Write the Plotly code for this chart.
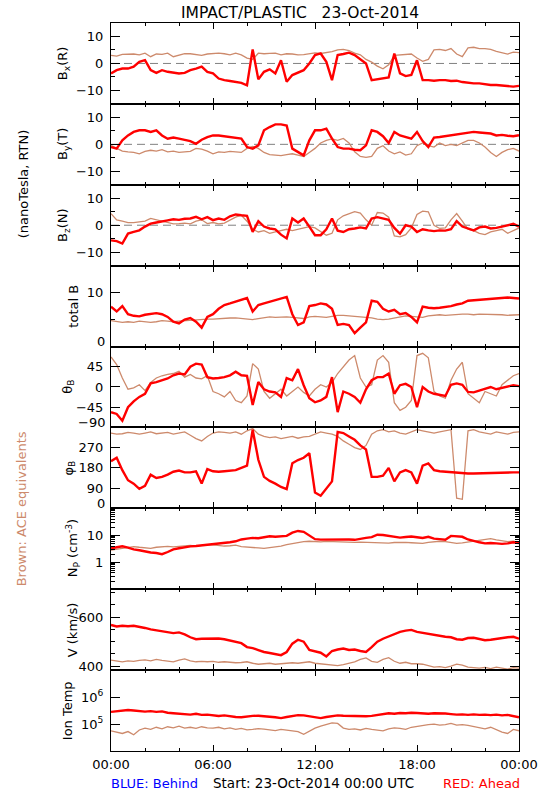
import pandas as pd
import plotly.graph_objects as go

# ---------------- data (20-minute samples) ----------------
times = pd.date_range("2014-10-23 00:00", periods=73, freq="20min")

bx_ahead = [-3.7, -2.5, -1.9, -1.9, -1.2, 0.6, 1.2, -2.5, -3.5, -2.5,
            -3.1, -3.5, -3.7, -3.5, -2.5, -1.9, -1.2, -3.1, -3.7, -5.6,
            -6.2, -6.5, -6.8, -7.2, -8.1, 5.2, -5.9, -3.1, -2.2, -3.7,
            1.2, -6.8, -4.3, -3.5, -2.5, 0.0, 3.1, 3.7, 0.6, -6.2,
            3.1, 3.5, 4.0, 3.1, 1.5, 0.0, -6.2, -5.9, -5.6, -5.2,
            3.7, -3.7, -4.7, -4.3, 1.2, -6.2, -6.2, -6.4, -6.2, -6.2,
            -6.5, -6.4, -6.9, -7.2, -7.4, -7.4, -7.7, -8.0, -8.0, -8.2,
            -8.4, -8.6, -8.3]
bx_ace = [3.0, 2.7, 3.4, 3.5, 3.5, 3.2, 3.8, 2.5, 3.5, 3.4,
          3.8, 2.5, 3.0, 3.6, 3.6, 3.4, 3.0, 3.5, 3.7, 3.8,
          3.6, 3.2, 3.8, 3.2, 2.0, 1.5, 3.8, 3.6, 3.7, 3.8,
          3.2, 3.6, 3.5, 3.2, 3.3, 3.6, 3.9, 3.7, 4.0, 4.4,
          5.0, 5.2, 4.8, 3.8, 3.2, 1.5, 0.5, -1.0, -2.0, -0.5,
          3.0, 3.2, 3.4, 3.5, 2.0, 0.8, 1.5, 5.0, 5.2, 4.8,
          5.5, 3.5, 2.5, 5.8, 6.0, 5.5, 5.5, 5.2, 4.5, 4.0,
          3.5, 4.2, 4.0]

by_ahead = [-1.0, -1.6, 1.5, 3.3, 4.6, 5.2, 5.2, 4.6, 5.2, 3.3,
            2.1, 2.5, 2.1, 1.7, 1.2, 0.2, 1.7, 2.7, 3.3, 3.3,
            3.0, 2.7, 2.5, 2.1, -1.0, -1.6, -0.4, 5.2, 6.4, 7.4,
            7.4, 7.0, -1.6, -2.8, -4.1, 1.5, 5.2, 5.2, 5.8, 2.1,
            -1.0, -1.6, -1.6, -2.0, -2.2, -0.4, 5.2, 4.6, 3.0, 0.5,
            4.6, 3.3, 2.7, 2.1, 4.6, 1.2, -1.0, 2.5, 2.7, 3.0,
            3.3, 3.7, 4.0, 4.4, 4.6, 4.4, 4.2, 4.0, 3.3, 3.5,
            3.2, 3.0, 3.4]
by_ace = [-0.4, -1.5, -2.5, -2.8, -3.0, -3.5, -2.6, -2.2, -2.5, -2.0,
          -2.8, -2.5, -3.0, -2.8, -2.6, -1.5, -1.8, -2.5, -3.5, -2.8,
          -3.0, -2.6, -2.8, -3.0, -1.5, -0.8, -1.5, -3.0, -3.8, -4.0,
          -4.2, -3.8, -3.5, -4.0, -4.5, -3.0, -1.5, 0.5, 1.5, 2.0,
          1.5, 2.2, 0.5, -2.8, -4.5, -4.8, -4.5, -1.5, -0.5, -2.5,
          -3.5, -2.8, -4.0, -3.5, -0.5, 0.5, -0.5, -1.0, 0.5, -0.5,
          0.0, -0.5, 0.5, 1.5, 1.5, 0.5, -1.0, -3.0, -4.5, -3.0,
          -2.0, -1.5, -2.5]

bz_ahead = [-5.6, -5.9, -6.8, -3.1, -2.5, -1.9, -0.5, 0.6, 1.0, 1.5,
            1.8, 2.2, 2.0, 2.4, 2.5, 3.1, 2.2, 3.0, 1.9, 2.5,
            2.0, 3.3, 4.0, 3.7, 3.5, -2.5, 1.5, -0.5, -1.2, -1.5,
            -3.5, -4.9, 2.5, 1.0, 2.5, -0.5, -3.7, -3.7, -1.5, 2.5,
            -2.0, -2.5, -1.5, -1.2, -0.8, -1.2, 2.5, 3.0, 2.5, 2.0,
            -1.0, -3.1, 0.0, -0.5, -2.5, -1.5, -1.9, -2.2, -1.9, -2.0,
            -1.5, 1.5, -0.5, -1.2, -1.9, -0.8, -0.5, -1.2, -1.0, -0.5,
            0.0, 0.5, -0.5]
bz_ace = [4.3, 2.0, 1.5, 1.0, 1.0, 1.2, 1.5, 2.5, 2.0, 1.5,
          1.0, 0.5, 0.6, 0.8, 0.5, 1.5, 2.0, 0.6, 1.0, 0.5,
          0.8, 2.0, 3.0, 3.7, 1.5, -1.5, -2.5, -2.0, -3.0, -2.5,
          -2.0, -1.5, -2.0, -1.5, -1.2, -0.5, -1.0, -2.5, -3.7, -3.0,
          2.0, 3.5, 4.3, 5.0, 4.5, 2.0, 0.0, 4.7, 4.5, 3.0,
          -4.0, -4.3, -3.5, -1.0, 4.0, 5.2, 5.0, 0.0, -1.2, -1.0,
          2.0, 4.3, 1.5, -1.5, -2.0, -3.0, -3.5, -2.5, -2.0, -1.5,
          -3.0, -2.0, -1.0]

btot_ahead = [7.4, 6.5, 7.5, 6.0, 5.7, 5.6, 5.9, 6.0, 6.2, 6.0,
              5.5, 4.6, 4.3, 5.0, 5.3, 4.6, 3.5, 5.5, 6.0, 7.0,
              7.7, 8.0, 8.3, 8.6, 9.0, 6.5, 7.7, 8.0, 8.3, 8.6,
              8.8, 9.2, 6.0, 4.0, 4.5, 7.5, 7.7, 8.0, 7.8, 7.0,
              4.0, 4.2, 4.0, 2.5, 3.5, 4.5, 8.5, 8.3, 7.0, 6.5,
              6.8, 6.0, 6.2, 5.5, 4.5, 7.4, 7.2, 7.1, 7.2, 7.3,
              7.5, 7.8, 8.0, 8.5, 8.6, 8.7, 8.8, 8.9, 9.0, 9.0,
              9.1, 9.0, 8.9]
btot_ace = [4.8, 4.6, 4.5, 4.6, 4.5, 4.7, 4.6, 4.5, 4.6, 4.8,
            4.7, 4.6, 4.7, 4.8, 4.9, 5.0, 5.0, 5.1, 5.1, 5.2,
            5.2, 5.3, 5.3, 5.2, 5.1, 5.0, 5.2, 5.4, 5.5, 5.4,
            5.5, 5.5, 5.4, 5.3, 5.2, 5.5, 5.6, 5.5, 5.4, 5.6,
            5.8, 5.8, 5.7, 5.6, 5.6, 5.5, 5.3, 5.1, 5.0, 5.1,
            5.3, 5.6, 5.7, 5.6, 5.5, 5.4, 5.7, 5.8, 5.9, 5.8,
            5.9, 5.9, 6.0, 6.0, 5.9, 6.0, 6.0, 6.0, 5.9, 5.9,
            5.8, 5.9, 5.9]

theta_ahead = [-56, -60, -75, -45, -32, -22, -15, 8, 11, 15,
               19, 26, 30, 28, 45, 52, 50, 22, 19, 20,
               22, 26, 34, 26, 25, -40, 11, -5, -10, -12,
               -22, 20, 15, 40, 4, -25, -34, -30, -22, 22,
               -56, -10, -15, -22, -35, -5, 15, 22, 22, 30,
               -15, 4, 7, 0, -45, 0, -10, -15, -18, -20,
               5, 8, 5, -11, -12, -8, -4, 0, -5, -2,
               0, 4, 2]
theta_ace = [67, 50, 20, -5, -2, 5, -8, 10, 20, 25,
             28, 30, 35, 22, 28, 20, 18, 25, -10, -15,
             -22, -10, -30, -35, -20, 52, 40, -10, -25, -15,
             -5, -20, -10, 0, -12, -20, -5, 5, 0, 10,
             30, 45, 60, 70, 20, 0, 5, 60, 70, 55,
             -35, -52, -45, -30, 70, 75, 65, -10, -20, -25,
             15, 40, 55, -15, -25, -35, -10, -15, -20, 5,
             15, 25, 30]

phi_ahead = [210, 225, 170, 125, 110, 87, 100, 150, 135, 140,
             150, 163, 168, 160, 160, 165, 110, 175, 165, 163,
             165, 168, 170, 180, 190, 350, 216, 140, 122, 110,
             95, 85, 201, 215, 225, 245, 70, 56, 90, 120,
             340, 335, 320, 305, 280, 262, 140, 140, 145, 180,
             120, 160, 170, 160, 110, 190, 200, 170, 165, 163,
             160, 158, 155, 155, 155, 156, 158, 158, 160, 160,
             162, 160, 160]
phi_ace = [335, 330, 332, 338, 335, 330, 335, 340, 332, 335,
           338, 330, 335, 340, 325, 310, 300, 320, 335, 340,
           338, 335, 340, 330, 345, 355, 330, 320, 315, 318,
           310, 315, 320, 312, 318, 320, 330, 340, 335, 330,
           320, 300, 285, 270, 262, 280, 330, 345, 350, 340,
           345, 335, 330, 340, 350, 345, 340, 335, 340, 345,
           350, 45, 40, 345, 350, 340, 335, 330, 340, 335,
           330, 338, 340]

np_ahead = [3.3, 3.6, 3.9, 3.5, 3.0, 2.8, 2.5, 2.3, 2.2, 2.0,
            2.4, 3.0, 3.3, 3.6, 3.9, 4.0, 4.2, 4.5, 4.6, 5.0,
            5.2, 5.5, 6.0, 7.0, 7.5, 8.0, 7.8, 8.5, 9.2, 8.8,
            9.0, 9.5, 12.5, 14.5, 13.5, 10.0, 7.2, 6.9, 7.0, 6.8,
            6.9, 7.2, 7.0, 6.8, 7.5, 8.0, 8.5, 10.5, 10.2, 9.5,
            8.8, 8.2, 8.6, 9.0, 8.5, 8.0, 8.8, 7.5, 7.2, 6.8,
            9.5, 9.2, 8.8, 7.0, 6.0, 5.5, 5.0, 5.2, 5.0, 4.8,
            5.0, 5.5, 5.2]
np_ace = [2.8, 3.0, 3.2, 3.5, 3.8, 3.6, 3.5, 3.3, 3.6, 3.8,
          3.9, 3.7, 3.8, 4.0, 4.2, 4.0, 4.3, 4.5, 4.4, 4.2,
          4.0, 4.1, 4.3, 3.8, 3.6, 3.5, 3.4, 3.3, 3.5, 3.7,
          4.0, 4.5, 5.0, 5.5, 5.8, 6.0, 5.8, 5.7, 5.9, 5.8,
          5.6, 5.5, 5.4, 5.5, 5.6, 5.5, 5.3, 5.2, 5.0, 5.1,
          5.4, 5.6, 5.5, 5.3, 5.2, 5.0, 5.5, 5.8, 6.0, 5.8,
          5.4, 5.0, 5.2, 5.6, 6.2, 6.8, 7.2, 7.5, 6.8, 6.2,
          5.8, 6.0, 5.5]

v_ahead = [568, 562, 565, 563, 565, 562, 556, 550, 546, 542,
           536, 535, 538, 530, 518, 510, 512, 512, 515, 513,
           510, 505, 500, 494, 478, 474, 466, 458, 454, 448,
           445, 458, 492, 508, 500, 466, 460, 455, 440, 462,
           468, 472, 466, 468, 462, 458, 478, 500, 512, 522,
           532, 540, 545, 548, 540, 536, 530, 528, 524, 520,
           518, 510, 508, 515, 516, 512, 506, 508, 512, 514,
           518, 520, 512]
v_ace = [425, 420, 418, 422, 420, 424, 426, 422, 428, 424,
         420, 418, 425, 430, 422, 418, 420, 418, 420, 416,
         418, 416, 414, 415, 418, 412, 408, 410, 412, 408,
         410, 412, 414, 412, 416, 418, 412, 410, 406, 404,
         402, 406, 412, 418, 428, 434, 420, 416, 428, 435,
         420, 412, 416, 410, 410, 408, 402, 396, 398, 394,
         400, 408, 404, 396, 394, 392, 395, 390, 396, 392,
         388, 394, 392]

temp_ahead = [282000, 302000, 316000, 331000, 316000, 295000, 288000, 302000, 282000, 295000,
              263000, 251000, 240000, 229000, 224000, 240000, 219000, 224000, 214000, 200000,
              209000, 191000, 182000, 178000, 191000, 200000, 204000, 200000, 186000, 178000,
              166000, 182000, 200000, 214000, 209000, 191000, 174000, 166000, 182000, 200000,
              209000, 204000, 200000, 209000, 200000, 195000, 200000, 219000, 240000, 251000,
              240000, 257000, 251000, 263000, 257000, 251000, 240000, 251000, 251000, 245000,
              234000, 224000, 229000, 219000, 229000, 219000, 224000, 214000, 224000, 209000,
              219000, 200000, 178000]
temp_ace = [56200, 50100, 44700, 52500, 39800, 60300, 70800, 63100, 75900, 66100,
            79400, 72400, 83200, 70800, 75900, 69200, 79400, 72400, 70800, 75900,
            66100, 72400, 63100, 69200, 60300, 63100, 67600, 64600, 60300, 57500,
            63100, 60300, 55000, 52500, 41700, 56200, 70800, 83200, 95500, 110000,
            105000, 70800, 63100, 66100, 60300, 69200, 63100, 60300, 56200, 66100,
            72400, 69200, 63100, 75900, 83200, 89100, 95500, 100000, 91200, 95500,
            105000, 91200, 95500, 89100, 79400, 70800, 66100, 75900, 60300, 50100,
            44700, 63100, 56200]

x_tick_labels = ["00:00", "06:00", "12:00", "18:00", "00:00"]

# ---------------- styling ----------------
RED = "#FF0000"
BROWN = "#CD8A6C"
FONT = "DejaVu Sans"
W, H = 550, 800
ML, MR, MT, MB = 111, 25, 23, 49
PW, PH = W - ML - MR, H - MT - MB
M = "\u2212"


def px_x(px):
    return (px - ML) / PW


def px_y(py):
    return (H - MB - py) / PH


panels = [
    dict(ace=bx_ace, ahead=bx_ahead, title="B<sub>x</sub>(R)", tx=63, rng=[-15, 15], typ="linear",
         tv=[-10, 0, 10], tt=None, minor=[-5, 5], zero=True, edge=None),
    dict(ace=by_ace, ahead=by_ahead, title="B<sub>y</sub>(T)", tx=63, rng=[-15, 15], typ="linear",
         tv=[-10, 0, 10], tt=None, minor=[-5, 5], zero=True, edge=None),
    dict(ace=bz_ace, ahead=bz_ahead, title="B<sub>z</sub>(N)", tx=63, rng=[-15, 15], typ="linear",
         tv=[-10, 0, 10], tt=None, minor=[-5, 5], zero=True, edge=None),
    dict(ace=btot_ace, ahead=btot_ahead, title="total B", tx=73, rng=[0, 15], typ="linear",
         tv=[0, 10], tt=["", "10"], minor=[5], zero=False, edge="0"),
    dict(ace=theta_ace, ahead=theta_ahead, title="θ<sub>B</sub>", tx=67, rng=[-90, 90], typ="linear",
         tv=[-90, -45, 0, 45], tt=["", M + "45", "0", "45"], minor=[], zero=False, edge=M + "90"),
    dict(ace=phi_ace, ahead=phi_ahead, title="φ<sub>B</sub>", tx=69, rng=[0, 360], typ="linear",
         tv=[0, 90, 180, 270], tt=["", "90", "180", "270"], minor=[], zero=False, edge="0"),
    dict(ace=np_ace, ahead=np_ahead, title="N<sub>P</sub> (cm<sup>-3</sup>)", tx=72, rng=[-1, 2], typ="log",
         tv=[1, 10], tt=["1", "10"],
         minor=[0.2, 0.3, 0.4, 0.5, 0.6, 0.7, 0.8, 0.9, 2, 3, 4, 5, 6, 7, 8, 9,
                20, 30, 40, 50, 60, 70, 80, 90], zero=False, edge=None),
    dict(ace=v_ace, ahead=v_ahead, title="V (km/s)", tx=72, rng=[384, 714], typ="linear",
         tv=[400, 600], tt=None, minor=[450, 500, 550, 650, 700], zero=False, edge=None),
    dict(ace=temp_ace, ahead=temp_ahead, title="Ion Temp", tx=67, rng=[4, 7], typ="log",
         tv=[1e5, 1e6], tt=["10<sup>5</sup>", "10<sup>6</sup>"], minor=[], zero=False, edge=None),
]

fig = go.Figure()
layout = {}
shapes = []
annotations = []
n = len(panels)
t0, t1 = "2014-10-23 00:00", "2014-10-24 00:00"

for i, p in enumerate(panels):
    k = i + 1
    xa = "x" if k == 1 else f"x{k}"
    ya = "y" if k == 1 else f"y{k}"
    fig.add_trace(go.Scatter(x=times, y=p["ace"], mode="lines",
                             line=dict(color=BROWN, width=1.3),
                             xaxis=xa, yaxis=ya, hoverinfo="skip", showlegend=False))
    fig.add_trace(go.Scatter(x=times, y=p["ahead"], mode="lines",
                             line=dict(color=RED, width=2.4),
                             xaxis=xa, yaxis=ya, hoverinfo="skip", showlegend=False))
    xdict = dict(domain=[0, 1], anchor=ya, type="date", range=[t0, t1],
                 tickmode="array",
                 tickvals=pd.date_range(t0, t1, freq="6h"), ticktext=x_tick_labels,
                 ticks="inside", ticklen=6, tickwidth=1, tickcolor="black",
                 showticklabels=(k == n), ticklabelstandoff=1,
                 tickfont=dict(family=FONT, size=13, color="black"),
                 showline=True, linecolor="black", linewidth=1, mirror="ticks",
                 showgrid=False, zeroline=False,
                 minor=dict(tickmode="array", tickvals=pd.date_range(t0, t1, freq="2h"),
                            ticks="inside", ticklen=3, tickcolor="black", showgrid=False))
    ydict = dict(domain=[1 - (i + 1) / n, 1 - i / n], anchor=xa, type=p["typ"], range=p["rng"],
                 tickmode="array", tickvals=p["tv"],
                 ticks="inside", ticklen=9, tickwidth=1, tickcolor="black",
                 ticklabelstandoff=4,
                 tickfont=dict(family=FONT, size=13, color="black"),
                 showline=True, linecolor="black", linewidth=1, mirror="ticks",
                 showgrid=False, zeroline=False,
                 minor=dict(tickmode="array", tickvals=p["minor"], ticks="inside",
                            ticklen=4, tickcolor="black", showgrid=False))
    if p["tt"] is not None:
        ydict["ticktext"] = p["tt"]
    layout["xaxis" if k == 1 else f"xaxis{k}"] = xdict
    layout["yaxis" if k == 1 else f"yaxis{k}"] = ydict
    if p["zero"]:
        shapes.append(dict(type="line", xref=f"{xa} domain", yref=ya, x0=0, x1=1, y0=0, y1=0,
                           line=dict(color="#808080", width=1, dash="8px,5px"), layer="below"))
    yc = MT + PH * (i + 0.5) / n
    annotations.append(dict(text=p["title"], x=px_x(p["tx"]), y=px_y(yc), xref="paper", yref="paper",
                            textangle=-90, showarrow=False, xanchor="center", yanchor="middle",
                            font=dict(family=FONT, size=13, color="black")))
    if p["edge"] is not None:
        ybot = MT + PH * (i + 1) / n
        annotations.append(dict(text=p["edge"], x=px_x(107), y=px_y(ybot - 5), xref="paper", yref="paper",
                                showarrow=False, xanchor="right", yanchor="middle",
                                font=dict(family=FONT, size=13, color="black")))

annotations += [
    dict(text="IMPACT/PLASTIC\u00a0\u00a0\u00a023-Oct-2014", x=px_x(303), y=px_y(13), xref="paper", yref="paper",
         showarrow=False, xanchor="center", yanchor="middle", font=dict(family=FONT, size=15.5, color="black")),
    dict(text="(nanoTesla, RTN)", x=px_x(22), y=px_y(184), xref="paper", yref="paper", textangle=-90,
         showarrow=False, xanchor="center", yanchor="middle", font=dict(family=FONT, size=13, color="black")),
    dict(text="Brown: ACE equivalents", x=px_x(20), y=px_y(509), xref="paper", yref="paper", textangle=-90,
         showarrow=False, xanchor="center", yanchor="middle", font=dict(family=FONT, size=13, color=BROWN)),
    dict(text="BLUE: Behind", x=px_x(155), y=px_y(783), xref="paper", yref="paper",
         showarrow=False, xanchor="center", yanchor="middle", font=dict(family=FONT, size=13, color="#0000FF")),
    dict(text="Start: 23-Oct-2014 00:00 UTC", x=px_x(316), y=px_y(783), xref="paper", yref="paper",
         showarrow=False, xanchor="center", yanchor="middle", font=dict(family=FONT, size=13.5, color="black")),
    dict(text="RED: Ahead", x=px_x(487), y=px_y(783), xref="paper", yref="paper",
         showarrow=False, xanchor="center", yanchor="middle", font=dict(family=FONT, size=13, color=RED)),
]

fig.update_layout(width=W, height=H, margin=dict(l=ML, r=MR, t=MT, b=MB, pad=0),
                  paper_bgcolor="white", plot_bgcolor="white", showlegend=False,
                  font=dict(family=FONT, size=13, color="black"),
                  shapes=shapes, annotations=annotations, **layout)

fig.write_html("out.html", config={"displayModeBar": False, "staticPlot": True},
               post_script="document.body.style.margin='0';document.body.style.padding='0';")
